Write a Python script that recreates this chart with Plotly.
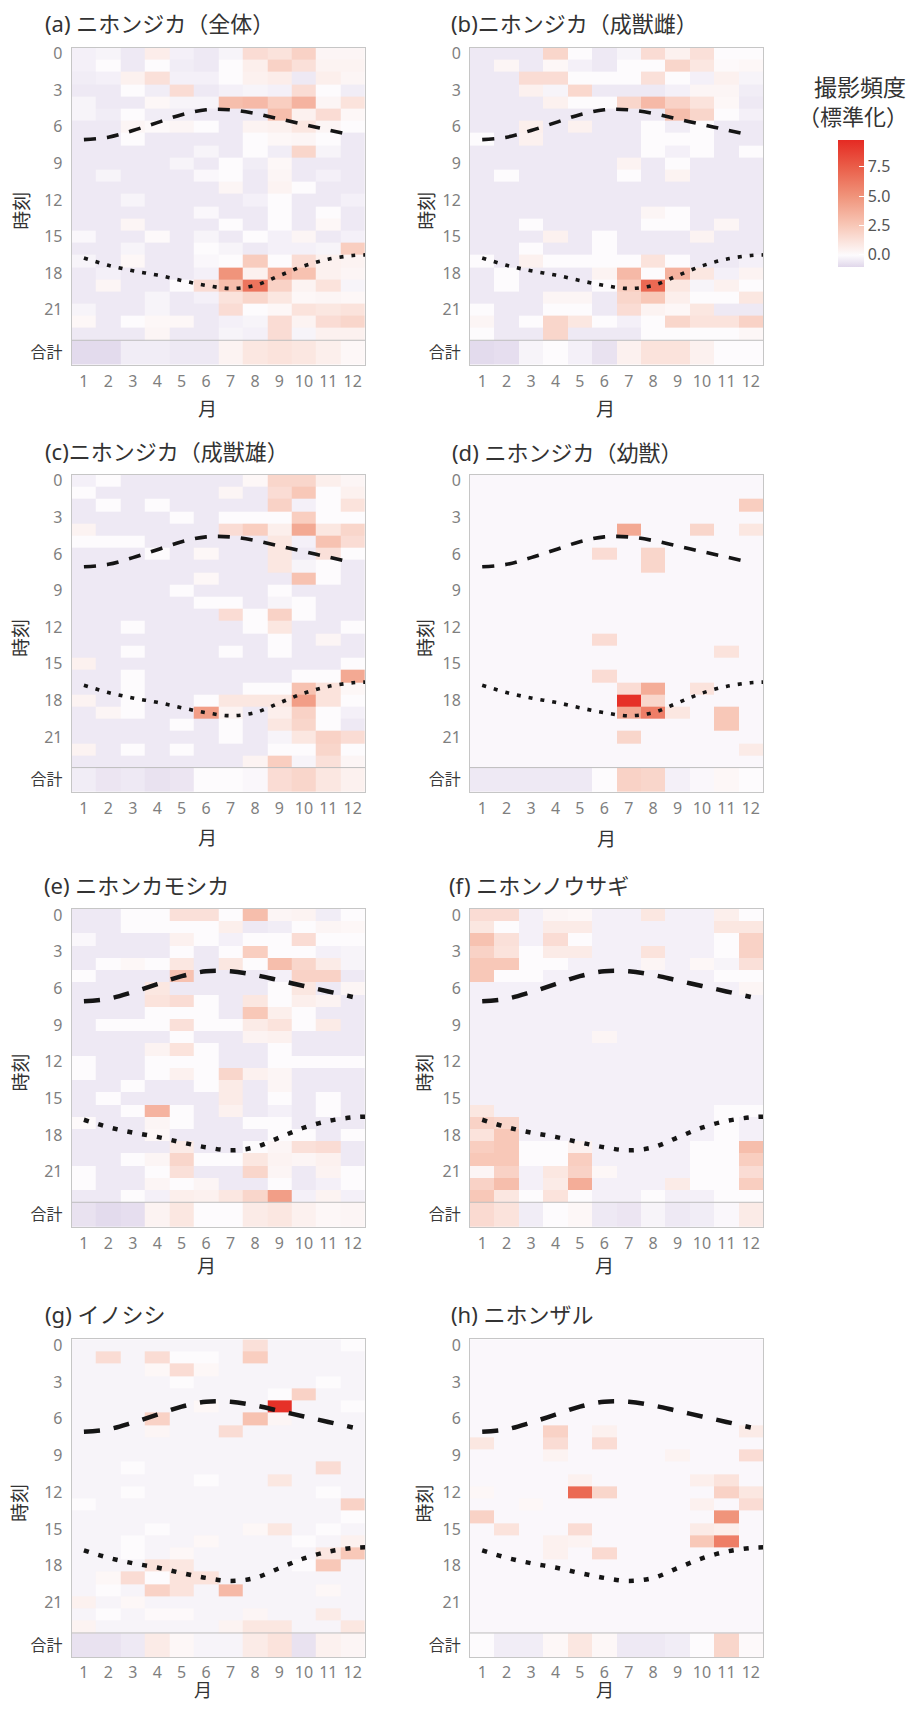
import plotly.graph_objects as go

# ---------------- data ----------------
months = [1, 2, 3, 4, 5, 6, 7, 8, 9, 10, 11, 12]
month_labels = ["1", "2", "3", "4", "5", "6", "7", "8", "9", "10", "11", "12"]
hour_ticks = [0, 3, 6, 9, 12, 15, 18, 21]
total_label = "合計"

sunrise_month = [1, 2, 3, 4, 5, 6, 7, 8, 9, 10, 11, 12]
sunrise_hour = [7.05, 6.85, 6.3, 5.65, 5.0, 4.6, 4.6, 4.9, 5.35, 5.8, 6.25, 6.7]
sunset_month = [1, 2, 3, 4, 5, 6, 7, 8, 9, 10, 11, 12, 12.5]
sunset_hour = [16.75, 17.35, 17.8, 18.15, 18.6, 19.0, 19.25, 19.0, 18.2, 17.4, 16.85, 16.55, 16.5]

titles = ["(a) ニホンジカ（全体）", "(b)ニホンジカ（成獣雌）", "(c)ニホンジカ（成獣雄）",
          "(d) ニホンジカ（幼獣）", "(e) ニホンカモシカ", "(f) ニホンノウサギ",
          "(g) イノシシ", "(h) ニホンザル"]

a_hours = [
    [-0.3, -0.2, -0.5, 0.7, -0.3, -0.5, -0.2, 1.5, 1.2, 2.0, 0.3, 0.3],
    [-0.3, 0.0, -0.5, 0.0, -0.4, -0.5, 0.0, 0.6, 2.0, 1.3, 0.4, 0.4],
    [-0.4, -0.3, 0.5, 1.3, -0.3, -0.3, 0.0, 0.5, 0.7, -0.5, 0.6, 0.3],
    [-0.5, -0.5, 0.0, -0.4, 1.5, -0.5, -0.3, -0.2, -0.3, 1.5, 0.0, -0.4],
    [-0.2, -0.5, -0.5, 0.2, -0.2, -0.2, 3.0, 3.2, 2.2, 3.5, 0.3, 1.2],
    [-0.2, -0.4, 0.0, -0.4, -0.4, -0.5, -0.5, -0.5, 3.0, 0.5, 1.5, 0.2],
    [-0.5, -0.5, 0.3, 0.1, 0.3, 0.0, -0.5, 0.4, 0.5, 1.0, 0.3, 0.0],
    [-0.5, -0.5, 0.0, -0.5, -0.5, -0.5, -0.5, 0.0, 0.2, 0.3, 0.0, -0.5],
    [-0.5, -0.5, -0.5, -0.5, -0.5, -0.2, -0.5, 0.0, -0.4, 1.8, -0.2, -0.5],
    [-0.5, -0.5, -0.5, -0.5, -0.2, -0.5, 0.0, -0.4, 0.2, -0.5, -0.5, -0.5],
    [-0.5, -0.2, -0.5, -0.5, -0.5, -0.1, 0.0, -0.5, 0.3, -0.5, -0.3, -0.5],
    [-0.5, -0.5, -0.5, -0.5, -0.5, -0.5, 0.3, -0.5, 0.4, 0.0, -0.5, -0.5],
    [-0.5, -0.5, -0.2, -0.5, -0.5, -0.5, -0.5, -0.3, 0.0, -0.5, -0.5, -0.3],
    [-0.5, -0.5, -0.5, -0.5, -0.5, -0.1, -0.5, -0.5, 0.0, -0.5, 0.0, -0.5],
    [-0.5, -0.5, 0.3, -0.5, -0.5, -0.5, 0.0, -0.5, 0.0, -0.5, 0.2, -0.5],
    [-0.1, -0.5, -0.5, 0.1, -0.5, -0.2, -0.5, 0.0, -0.3, 0.3, -0.5, -0.3],
    [-0.5, -0.5, -0.2, -0.5, -0.5, 0.0, -0.2, -0.5, -0.3, -0.3, -0.2, 2.2],
    [-0.2, -0.5, 0.2, -0.5, -0.5, -0.1, 0.0, 2.3, 0.0, 1.5, 0.5, 0.4],
    [-0.5, -0.3, -0.5, -0.5, -0.5, -0.3, 5.0, 0.5, 3.5, 2.8, 0.5, 0.3],
    [-0.5, 0.3, -0.5, -0.5, 0.0, 1.5, 3.0, 6.5, 2.0, 0.4, 1.2, -0.2],
    [-0.5, -0.5, -0.5, -0.2, -0.5, -0.3, 1.2, 1.8, 1.0, 0.2, 0.3, 0.2],
    [-0.2, -0.5, -0.5, -0.2, -0.5, -0.5, 1.5, 0.0, 0.2, 1.2, 1.0, 1.2],
    [0.2, -0.5, 0.0, 0.2, 0.2, -0.5, -0.3, -0.2, 1.5, 0.4, 1.5, 1.8],
    [-0.5, -0.5, -0.5, 0.3, -0.5, -0.5, -0.2, -0.3, 1.5, -0.2, 0.5, 0.5],
]
a_total = [-0.9, -0.9, -0.4, -0.4, -0.5, -0.5, 0.4, 1.0, 1.2, 1.0, 0.6, 0.2]

b_hours = [
    [-0.5, -0.5, -0.5, 1.8, 0.0, -0.5, -0.2, 1.5, 0.5, 1.3, 0.0, 0.0],
    [-0.5, 0.3, -0.5, 0.2, -0.3, -0.5, 0.0, 0.0, 1.8, 1.0, 0.1, 0.2],
    [-0.5, -0.5, 1.5, 1.5, 0.0, 0.0, 0.0, 1.3, 0.0, -0.3, 0.5, -0.2],
    [-0.5, -0.5, 0.5, -0.2, 1.7, -0.5, -0.5, -0.5, -0.3, 0.3, 0.3, -0.4],
    [-0.5, -0.5, -0.5, 0.5, 0.0, 0.0, 1.8, 3.2, 2.0, 1.2, 0.2, -0.5],
    [-0.5, -0.5, -0.5, -0.5, -0.5, -0.5, -0.5, -0.5, 3.0, 1.8, 0.0, -0.3],
    [-0.5, -0.5, 0.6, -0.5, 0.5, -0.5, -0.5, 0.0, -0.4, 0.0, -0.5, -0.5],
    [0.0, -0.5, 0.5, -0.5, -0.5, -0.5, -0.5, 0.0, 0.0, 0.0, -0.5, -0.5],
    [-0.5, -0.5, -0.5, -0.5, -0.5, -0.5, -0.5, 0.0, -0.3, 0.0, -0.5, 0.0],
    [-0.5, -0.5, -0.5, -0.5, -0.5, -0.5, 0.4, -0.5, 0.0, -0.5, -0.5, -0.5],
    [-0.5, 0.0, -0.5, -0.5, -0.5, -0.5, 0.0, -0.5, 0.4, -0.5, -0.5, -0.5],
    [-0.5, -0.5, -0.5, -0.5, -0.5, -0.5, -0.5, -0.5, -0.5, -0.5, -0.5, -0.5],
    [-0.5, -0.5, -0.5, -0.5, -0.5, -0.5, -0.5, -0.5, -0.5, -0.5, -0.5, -0.5],
    [-0.5, -0.5, -0.5, -0.5, -0.5, -0.5, -0.5, 0.3, 0.0, -0.5, -0.5, -0.5],
    [-0.5, -0.5, 0.0, -0.5, -0.5, -0.5, -0.5, 0.0, 0.0, -0.5, 0.3, -0.5],
    [-0.5, -0.5, -0.5, 0.5, -0.5, 0.0, -0.5, -0.5, -0.5, 0.4, -0.5, -0.5],
    [-0.5, -0.5, 0.0, -0.5, -0.5, 0.0, -0.5, -0.5, -0.5, -0.5, -0.5, -0.5],
    [0.0, -0.5, 0.5, 0.0, 0.0, 0.0, 0.0, 1.2, 0.0, -0.5, -0.5, -0.3],
    [-0.5, 0.0, -0.5, -0.5, -0.5, 0.4, 3.2, 0.0, 3.5, 1.0, -0.3, 0.4],
    [-0.5, 0.0, -0.5, -0.5, -0.5, 0.0, 2.2, 7.0, 1.0, -0.2, 0.5, 0.0],
    [-0.5, -0.5, -0.5, 0.3, 0.3, -0.5, 1.8, 2.5, 0.6, 0.0, 0.0, 1.0],
    [0.0, -0.5, -0.5, 0.0, 0.0, -0.5, 1.5, 0.4, 0.2, 1.0, -0.5, -0.5],
    [0.3, -0.5, 0.0, 1.8, 1.0, 0.0, -0.3, 0.0, 1.8, 1.2, 1.2, 2.0],
    [0.0, -0.5, -0.5, 1.8, -0.5, -0.5, -0.5, 0.0, 0.0, 0.0, 0.0, 0.2],
]
b_total = [-0.9, -0.8, -0.2, 0.0, -0.3, -0.7, 0.5, 1.2, 1.2, 0.5, 0.0, 0.0]

c_hours = [
    [-0.3, 0.0, -0.5, -0.5, -0.5, -0.5, -0.5, 0.2, 1.8, 1.8, 0.6, 0.3],
    [0.0, -0.5, -0.5, -0.5, -0.5, -0.5, 0.3, -0.5, 1.5, 2.5, 0.0, 0.5],
    [-0.5, 0.0, -0.5, 0.0, -0.5, -0.5, -0.5, -0.5, 2.0, -0.3, 0.0, 1.2],
    [-0.5, -0.5, -0.5, -0.5, 0.0, -0.5, 0.0, 0.0, 0.0, 2.2, 0.0, 0.0],
    [0.4, -0.5, -0.5, -0.5, -0.5, -0.5, 1.5, 2.2, 0.6, 4.0, 1.0, 1.8],
    [0.0, 0.0, 0.0, -0.5, -0.5, -0.5, -0.5, -0.5, 1.0, -0.3, 2.8, 1.5],
    [-0.5, -0.5, -0.5, 0.0, -0.5, 0.2, -0.5, -0.5, 1.0, -0.5, 1.3, 0.0],
    [-0.5, -0.5, -0.5, -0.5, -0.5, -0.5, -0.5, -0.5, 1.0, -0.2, 0.0, -0.5],
    [-0.5, -0.5, -0.5, -0.5, -0.5, 0.2, -0.5, -0.5, -0.5, 2.8, 0.0, -0.5],
    [-0.5, -0.5, -0.5, -0.5, 0.0, -0.5, -0.5, -0.5, 0.0, -0.5, -0.5, -0.5],
    [-0.5, -0.5, -0.5, -0.5, -0.5, 0.0, 0.0, -0.5, -0.2, 0.0, -0.5, -0.5],
    [-0.5, -0.5, -0.5, -0.5, -0.5, -0.5, 1.5, 0.0, 2.0, 0.0, -0.5, -0.5],
    [-0.5, -0.5, 0.0, -0.5, -0.5, -0.5, -0.5, 0.0, 1.0, -0.5, -0.5, 0.0],
    [-0.5, -0.5, -0.5, -0.5, -0.5, -0.5, -0.5, -0.5, 0.0, -0.5, 0.3, -0.5],
    [-0.5, -0.5, 0.0, -0.5, -0.5, -0.5, 0.0, -0.5, 0.0, -0.5, -0.5, -0.5],
    [0.5, -0.5, -0.5, -0.5, -0.5, -0.5, -0.5, -0.5, -0.5, -0.5, -0.5, 0.0],
    [-0.5, -0.5, 0.0, -0.5, -0.5, -0.5, -0.5, -0.5, -0.5, 0.0, 0.0, 4.0],
    [-0.5, -0.5, 0.0, -0.5, -0.5, -0.5, -0.5, 0.0, 0.0, 2.8, 1.2, 0.2],
    [0.4, -0.5, 0.0, -0.5, -0.5, 0.0, 1.0, 1.0, 1.0, 4.5, 1.2, 0.0],
    [-0.5, 0.3, 0.0, -0.5, -0.5, 4.5, 0.4, -0.5, 0.6, 2.0, 0.0, -0.3],
    [-0.5, -0.5, -0.5, -0.5, 0.0, -0.5, 0.0, -0.5, 1.0, 1.8, 0.0, -0.5],
    [-0.5, -0.5, -0.5, -0.5, -0.5, -0.5, 0.0, -0.5, -0.2, 1.0, 2.0, 1.5],
    [0.4, -0.5, 0.0, -0.5, 0.0, -0.5, -0.5, -0.5, 0.0, 0.0, 1.8, 0.0],
    [-0.5, -0.5, -0.5, -0.5, -0.5, -0.5, -0.5, 0.4, 2.2, -0.2, 1.3, 0.3],
]
c_total = [-0.4, -0.6, -0.5, -0.7, -0.6, 0.0, 0.0, -0.1, 1.5, 1.8, 1.0, 0.5]

d_hours = [
    [-0.1, -0.1, -0.1, -0.1, -0.1, -0.1, -0.1, -0.1, -0.1, -0.1, -0.1, -0.1],
    [-0.1, -0.1, -0.1, -0.1, -0.1, -0.1, -0.1, -0.1, -0.1, -0.1, -0.1, -0.1],
    [-0.1, -0.1, -0.1, -0.1, -0.1, -0.1, -0.1, -0.1, -0.1, -0.1, -0.1, 2.2],
    [-0.1, -0.1, -0.1, -0.1, -0.1, -0.1, -0.1, -0.1, -0.1, -0.1, -0.1, -0.1],
    [-0.1, -0.1, -0.1, -0.1, -0.1, -0.1, 4.0, -0.1, -0.1, 1.8, -0.1, 1.0],
    [-0.1, -0.1, -0.1, -0.1, -0.1, -0.1, -0.1, -0.1, -0.1, -0.1, -0.1, -0.1],
    [-0.1, -0.1, -0.1, -0.1, -0.1, 1.5, -0.1, 1.8, -0.1, -0.1, -0.1, -0.1],
    [-0.1, -0.1, -0.1, -0.1, -0.1, -0.1, -0.1, 1.8, -0.1, -0.1, -0.1, -0.1],
    [-0.1, -0.1, -0.1, -0.1, -0.1, -0.1, -0.1, -0.1, -0.1, -0.1, -0.1, -0.1],
    [-0.1, -0.1, -0.1, -0.1, -0.1, -0.1, -0.1, -0.1, -0.1, -0.1, -0.1, -0.1],
    [-0.1, -0.1, -0.1, -0.1, -0.1, -0.1, -0.1, -0.1, -0.1, -0.1, -0.1, -0.1],
    [-0.1, -0.1, -0.1, -0.1, -0.1, -0.1, -0.1, -0.1, -0.1, -0.1, -0.1, -0.1],
    [-0.1, -0.1, -0.1, -0.1, -0.1, -0.1, -0.1, -0.1, -0.1, -0.1, -0.1, -0.1],
    [-0.1, -0.1, -0.1, -0.1, -0.1, 1.5, -0.1, -0.1, -0.1, -0.1, -0.1, -0.1],
    [-0.1, -0.1, -0.1, -0.1, -0.1, -0.1, -0.1, -0.1, -0.1, -0.1, 1.2, -0.1],
    [-0.1, -0.1, -0.1, -0.1, -0.1, -0.1, -0.1, -0.1, -0.1, -0.1, -0.1, -0.1],
    [-0.1, -0.1, -0.1, -0.1, -0.1, 1.5, -0.1, -0.1, -0.1, -0.1, -0.1, -0.1],
    [-0.1, -0.1, -0.1, -0.1, -0.1, -0.1, 1.5, 3.8, -0.1, 1.2, -0.1, -0.1],
    [-0.1, -0.1, -0.1, -0.1, -0.1, -0.1, 9.5, 1.8, -0.1, -0.1, -0.1, -0.1],
    [-0.1, -0.1, -0.1, -0.1, -0.1, -0.1, 4.0, 6.0, 1.0, -0.1, 2.5, -0.1],
    [-0.1, -0.1, -0.1, -0.1, -0.1, -0.1, -0.1, -0.1, -0.1, -0.1, 2.5, -0.1],
    [-0.1, -0.1, -0.1, -0.1, -0.1, -0.1, 1.8, -0.1, -0.1, -0.1, -0.1, -0.1],
    [-0.1, -0.1, -0.1, -0.1, -0.1, -0.1, -0.1, -0.1, -0.1, -0.1, -0.1, 0.8],
    [-0.1, -0.1, -0.1, -0.1, -0.1, -0.1, -0.1, -0.1, -0.1, -0.1, -0.1, -0.1],
]
d_total = [-0.5, -0.5, -0.5, -0.5, -0.5, 0.0, 2.0, 1.8, -0.3, -0.1, 0.2, 0.0]

e_hours = [
    [-0.5, -0.5, 0.0, 0.0, 1.3, 1.3, 0.0, 3.0, 0.3, 0.4, -0.4, 0.0],
    [-0.5, -0.5, 0.0, 0.0, 0.0, 0.0, 0.6, -0.5, -0.4, 0.0, 0.3, 0.2],
    [-0.1, -0.5, -0.5, -0.5, 0.5, 0.0, -0.3, 0.0, 0.0, 1.5, 0.0, 0.0],
    [-0.5, -0.5, -0.5, -0.5, 0.0, -0.5, 0.0, 2.2, 0.0, 0.0, -0.3, -0.2],
    [-0.5, 0.0, 0.2, 0.0, 1.0, -0.5, 1.0, 0.0, 3.0, 1.8, 0.8, -0.2],
    [0.0, -0.5, -0.5, -0.5, 2.8, -0.5, -0.5, -0.5, -0.3, 2.0, 2.0, -0.5],
    [-0.5, -0.5, -0.5, 1.0, -0.5, -0.5, -0.5, -0.5, 0.0, 1.0, -0.5, 0.3],
    [-0.5, -0.5, -0.5, 1.2, 1.5, 0.0, -0.5, 1.0, 0.0, 0.6, 0.4, -0.5],
    [-0.5, -0.5, -0.5, 0.0, 0.0, 0.0, -0.5, 2.5, 0.6, 0.0, -0.5, -0.5],
    [-0.5, 0.0, 0.0, 0.0, 1.3, 0.0, 0.0, 0.8, 1.2, 0.0, 0.8, -0.5],
    [-0.5, -0.5, -0.5, -0.5, 0.0, -0.5, -0.5, 0.4, 0.5, -0.5, -0.5, -0.5],
    [-0.5, -0.5, -0.5, 0.4, 1.2, 0.0, -0.5, -0.5, 0.0, -0.5, -0.5, -0.5],
    [0.0, -0.5, -0.5, 0.0, 0.0, 0.0, -0.5, -0.5, 0.0, 0.0, 0.0, 0.0],
    [0.0, -0.5, -0.5, 0.0, 0.5, 0.0, 1.8, 0.5, 0.3, -0.5, -0.5, -0.5],
    [-0.5, -0.5, 0.0, -0.5, -0.5, 0.0, 0.8, -0.5, 0.3, -0.5, -0.5, -0.5],
    [-0.5, 0.0, -0.5, -0.5, -0.5, -0.5, 0.8, -0.5, 0.0, -0.5, 0.0, -0.5],
    [-0.5, -0.5, 0.0, 3.5, 0.0, -0.5, 0.5, -0.5, -0.3, -0.5, 0.0, -0.5],
    [0.1, -0.5, -0.5, 0.3, 0.0, -0.5, -0.5, 0.0, 0.0, -0.5, -0.5, -0.5],
    [-0.5, -0.5, -0.5, 0.2, -0.5, -0.5, -0.5, -0.5, 0.0, 0.0, -0.5, 0.0],
    [-0.5, -0.5, -0.5, -0.5, 0.8, -0.5, -0.5, 0.0, 0.3, 1.3, 1.5, -0.5],
    [-0.5, -0.5, 0.0, 0.3, 1.8, 0.0, 0.0, 1.0, 0.4, 0.3, 0.5, -0.5],
    [0.0, -0.5, -0.5, 0.0, 1.3, -0.5, -0.5, 1.8, 0.3, -0.5, 0.4, 0.0],
    [0.0, -0.5, -0.5, 0.3, 0.0, 0.3, -0.5, -0.5, 0.0, -0.5, -0.3, 0.0],
    [-0.5, -0.5, 0.0, -0.3, 0.6, 0.5, 1.0, 1.8, 4.5, -0.3, 0.4, -0.3],
]
e_total = [-0.7, -0.9, -0.8, 0.4, 1.0, 0.0, 0.0, 0.8, 1.0, 0.5, 0.2, 0.3]

f_hours = [
    [1.5, 1.5, -0.3, 0.3, 0.2, -0.3, -0.3, 1.0, -0.3, -0.3, 0.6, 0.0],
    [1.0, 0.0, -0.3, 0.8, 0.8, -0.3, -0.3, -0.3, -0.3, -0.3, 1.0, 1.0],
    [2.8, 1.3, -0.3, 1.5, 0.0, -0.3, -0.3, -0.3, -0.3, -0.3, 0.0, 2.0],
    [2.0, 1.2, 0.0, 0.8, 0.8, -0.3, -0.3, 1.2, -0.3, -0.3, 0.0, 2.0],
    [2.5, 2.5, 0.0, 0.0, -0.3, -0.3, -0.3, 0.3, -0.3, 0.2, -0.2, 1.3],
    [2.5, 0.0, 0.0, -0.3, -0.3, -0.3, -0.3, -0.3, -0.3, -0.3, 0.0, 0.0],
    [-0.3, -0.3, -0.3, -0.3, -0.3, -0.3, -0.3, -0.3, -0.3, -0.3, -0.3, 0.3],
    [-0.3, -0.3, -0.3, -0.3, -0.3, -0.3, -0.3, -0.3, -0.3, -0.3, -0.3, -0.3],
    [-0.3, -0.3, -0.3, -0.3, -0.3, -0.3, -0.3, -0.3, -0.3, -0.3, -0.3, -0.3],
    [-0.3, -0.3, -0.3, -0.3, -0.3, -0.3, -0.3, -0.3, -0.3, -0.3, -0.3, -0.3],
    [-0.3, -0.3, -0.3, -0.3, -0.3, 0.3, -0.3, -0.3, -0.3, -0.3, -0.3, -0.3],
    [-0.3, -0.3, -0.3, -0.3, -0.3, -0.3, -0.3, -0.3, -0.3, -0.3, -0.3, -0.3],
    [-0.3, -0.3, -0.3, -0.3, -0.3, -0.3, -0.3, -0.3, -0.3, -0.3, -0.3, -0.3],
    [-0.3, -0.3, -0.3, -0.3, -0.3, -0.3, -0.3, -0.3, -0.3, -0.3, -0.3, -0.3],
    [-0.3, -0.3, -0.3, -0.3, -0.3, -0.3, -0.3, -0.3, -0.3, -0.3, -0.3, -0.3],
    [-0.3, -0.3, -0.3, -0.3, -0.3, -0.3, -0.3, -0.3, -0.3, -0.3, -0.3, -0.3],
    [1.0, -0.3, -0.3, -0.3, -0.3, -0.3, -0.3, -0.3, -0.3, -0.3, 0.0, 0.0],
    [2.0, 1.8, -0.3, -0.3, -0.3, -0.3, -0.3, -0.3, -0.3, -0.3, 0.0, -0.3],
    [1.2, 2.5, -0.3, -0.3, -0.3, -0.3, -0.3, -0.3, -0.3, -0.3, 0.0, -0.3],
    [2.2, 2.5, 0.0, 0.0, 0.5, -0.3, -0.3, -0.3, -0.3, 0.0, 0.0, 3.0],
    [2.5, 2.5, 0.0, 0.0, 2.2, -0.3, -0.3, -0.3, -0.3, 0.0, 0.0, 2.2],
    [0.3, 2.0, -0.3, 1.0, 2.0, 0.2, -0.3, -0.3, -0.3, 0.0, 0.0, 1.5],
    [2.0, 3.0, -0.3, 0.8, 3.8, -0.3, -0.3, -0.3, 0.8, 0.0, 0.0, 2.2],
    [2.5, 1.0, 0.0, 1.2, 0.0, -0.3, -0.3, 0.0, -0.3, -0.3, 0.0, 0.0],
]
f_total = [1.6, 1.2, -0.4, 0.0, 0.2, -0.5, -0.6, -0.2, -0.5, -0.4, -0.1, 0.8]

g_hours = [
    [-0.2, -0.2, -0.2, -0.2, -0.2, -0.2, -0.2, 1.3, -0.2, -0.2, -0.2, 0.0],
    [-0.2, 1.5, -0.2, 1.5, 0.0, 0.0, -0.2, 2.2, -0.2, -0.2, -0.2, -0.2],
    [-0.2, -0.2, -0.2, 0.2, 1.5, 0.2, -0.2, -0.2, -0.2, -0.2, -0.2, -0.2],
    [-0.2, -0.2, -0.2, -0.2, 0.0, -0.2, -0.2, -0.2, -0.2, -0.2, 0.0, -0.2],
    [-0.2, -0.2, -0.2, -0.2, -0.2, -0.2, -0.2, -0.2, 0.0, 2.0, -0.2, -0.2],
    [-0.2, -0.2, -0.2, -0.2, -0.2, 0.2, -0.2, -0.2, 9.5, -0.2, -0.2, 0.0],
    [-0.2, -0.2, -0.2, 2.0, -0.2, -0.2, -0.2, 2.8, 0.3, -0.2, -0.2, -0.2],
    [-0.2, -0.2, -0.2, 0.3, -0.2, -0.2, 1.5, -0.2, -0.2, -0.2, -0.2, -0.2],
    [-0.2, -0.2, -0.2, -0.2, -0.2, -0.2, -0.2, -0.2, -0.2, -0.2, -0.2, -0.2],
    [-0.2, -0.2, -0.2, -0.2, -0.2, -0.2, -0.2, -0.2, -0.2, -0.2, -0.2, -0.2],
    [-0.2, -0.2, 0.0, -0.2, -0.2, -0.2, -0.2, -0.2, -0.2, -0.2, 1.5, -0.2],
    [-0.2, -0.2, -0.2, -0.2, -0.2, 0.0, -0.2, -0.2, 1.0, -0.2, -0.2, -0.2],
    [-0.2, -0.2, 0.0, -0.2, -0.2, -0.2, -0.2, -0.2, -0.2, -0.2, 0.0, -0.2],
    [0.0, -0.2, -0.2, -0.2, -0.2, -0.2, -0.2, -0.2, -0.2, -0.2, -0.2, 2.0],
    [-0.2, -0.2, -0.2, -0.2, -0.2, -0.2, -0.2, -0.2, -0.2, -0.2, -0.2, 0.0],
    [-0.2, -0.2, -0.2, 0.0, -0.2, -0.2, -0.2, 0.2, 1.0, -0.2, 0.0, -0.2],
    [-0.2, -0.2, 0.0, -0.2, -0.2, 0.2, -0.2, -0.2, -0.2, 0.0, -0.2, 0.5],
    [-0.2, -0.2, 0.0, -0.2, 0.2, -0.2, -0.2, -0.2, -0.2, -0.2, 1.0, 2.5],
    [-0.2, -0.2, -0.2, 1.2, 1.0, -0.2, -0.2, -0.2, -0.2, 0.0, 2.5, -0.2],
    [-0.2, 0.2, 1.5, 0.0, 1.2, 1.2, -0.2, -0.2, -0.2, -0.2, -0.2, -0.2],
    [-0.2, 0.0, -0.2, 2.0, 1.2, -0.2, 3.2, -0.2, -0.2, -0.2, 0.2, -0.2],
    [0.5, -0.2, 0.2, -0.2, -0.2, -0.2, -0.2, -0.2, -0.2, -0.2, -0.2, -0.2],
    [-0.2, 0.0, -0.2, 0.1, 0.1, -0.2, -0.2, 0.3, -0.2, -0.2, 0.8, -0.2],
    [0.4, -0.2, -0.2, -0.2, -0.2, -0.2, 0.4, 1.0, 1.0, -0.2, -0.2, 1.0],
]
g_total = [-0.7, -0.7, -0.5, 0.8, 0.2, -0.2, -0.2, 0.8, 1.2, -0.7, 0.5, 0.3]

h_hours = [
    [-0.1, -0.1, -0.1, -0.1, -0.1, -0.1, -0.1, -0.1, -0.1, -0.1, -0.1, -0.1],
    [-0.1, -0.1, -0.1, -0.1, -0.1, -0.1, -0.1, -0.1, -0.1, -0.1, -0.1, -0.1],
    [-0.1, -0.1, -0.1, -0.1, -0.1, -0.1, -0.1, -0.1, -0.1, -0.1, -0.1, -0.1],
    [-0.1, -0.1, -0.1, -0.1, -0.1, -0.1, -0.1, -0.1, -0.1, -0.1, -0.1, -0.1],
    [-0.1, -0.1, -0.1, -0.1, -0.1, -0.1, -0.1, -0.1, -0.1, -0.1, -0.1, -0.1],
    [-0.1, -0.1, -0.1, -0.1, -0.1, -0.1, -0.1, -0.1, -0.1, -0.1, -0.1, -0.1],
    [-0.1, -0.1, -0.1, -0.1, -0.1, -0.1, -0.1, -0.1, -0.1, -0.1, -0.1, -0.1],
    [-0.1, -0.1, -0.1, 2.0, -0.1, 0.5, -0.1, -0.1, -0.1, -0.1, -0.1, 0.8],
    [1.0, -0.1, -0.1, 1.5, -0.1, 1.5, -0.1, -0.1, -0.1, -0.1, -0.1, -0.1],
    [-0.1, -0.1, -0.1, 0.4, -0.1, -0.1, -0.1, -0.1, 0.4, -0.1, -0.1, 1.5],
    [-0.1, -0.1, -0.1, -0.1, -0.1, -0.1, -0.1, -0.1, -0.1, -0.1, -0.1, -0.1],
    [-0.1, -0.1, -0.1, -0.1, 0.5, -0.1, -0.1, -0.1, -0.1, 0.6, 1.2, -0.1],
    [0.2, -0.1, -0.1, -0.1, 7.0, 1.8, -0.1, -0.1, -0.1, -0.1, 2.0, 1.0],
    [-0.1, -0.1, 0.2, -0.1, -0.1, -0.1, -0.1, -0.1, -0.1, 0.5, -0.1, 1.5],
    [2.0, -0.1, -0.1, -0.1, -0.1, -0.1, -0.1, -0.1, -0.1, -0.1, 5.0, -0.1],
    [-0.1, 1.2, -0.1, -0.1, 1.5, -0.1, -0.1, -0.1, -0.1, 0.8, 0.6, -0.1],
    [-0.1, -0.1, -0.1, 0.5, 0.4, -0.1, -0.1, -0.1, -0.1, 2.5, 6.0, -0.1],
    [-0.1, -0.1, -0.1, 0.5, -0.1, 1.6, -0.1, -0.1, -0.1, -0.1, -0.1, -0.1],
    [-0.1, -0.1, -0.1, -0.1, -0.1, -0.1, -0.1, -0.1, -0.1, -0.1, -0.1, -0.1],
    [-0.1, -0.1, -0.1, -0.1, -0.1, -0.1, -0.1, -0.1, -0.1, -0.1, -0.1, -0.1],
    [-0.1, -0.1, -0.1, -0.1, -0.1, -0.1, -0.1, -0.1, -0.1, -0.1, -0.1, -0.1],
    [-0.1, -0.1, -0.1, -0.1, -0.1, -0.1, -0.1, -0.1, -0.1, -0.1, -0.1, -0.1],
    [-0.1, -0.1, -0.1, -0.1, -0.1, -0.1, -0.1, -0.1, -0.1, -0.1, -0.1, -0.1],
    [-0.1, -0.1, -0.1, -0.1, -0.1, -0.1, -0.1, -0.1, -0.1, -0.1, -0.1, -0.1],
]
h_total = [0.0, -0.4, -0.4, 0.2, 1.0, 0.2, -0.5, -0.5, -0.4, 0.0, 1.8, 0.1]

panel_hours = [a_hours, b_hours, c_hours, d_hours, e_hours, f_hours, g_hours, h_hours]
panel_totals = [a_total, b_total, c_total, d_total, e_total, f_total, g_total, h_total]

# ---------------- layout geometry (page pixels) ----------------
PAGE_W, PAGE_H = 916, 1710
OFF = 8                      # default body margin of the html page
W, H = PAGE_W - 2 * OFF, PAGE_H - 2 * OFF
col_x = [(71.7, 365.0), (470.0, 763.0)]
row_y = [(42.7, 360.7), (471.0, 789.3), (906.6, 1225.3), (1338.3, 1657.3)]
title_pos = [(43, 18), (449, 18), (43, 447), (450, 448),
             (42, 883), (447, 883), (43, 1313), (449, 1313)]
month_title_pos = [(207, 405), (605, 405), (207, 835), (606, 836),
                   (206, 1265), (604, 1265), (203, 1690), (605, 1690)]
hour_title_x = [21.7, 426.7, 21.7, 426.7, 20.7, 425.0, 20.7, 425.0]

FONT = "Noto Sans, Noto Sans CJK JP, sans-serif"


def px(x):
    return (x - OFF) / W


def py(y):
    return 1 - (y - OFF) / H


# y edges: 24 hour rows of height 1, then total row of height 2
y_edges = [h - 0.5 for h in range(25)] + [25.5]

colorscale = [
    [0.0, "rgb(224,215,235)"],
    [0.0926, "rgb(253,251,253)"],
    [0.3241, "rgb(248,200,184)"],
    [0.5556, "rgb(240,148,123)"],
    [0.787, "rgb(234,94,73)"],
    [1.0, "rgb(229,42,35)"],
]

fig = go.Figure()
layout = dict(
    width=W, height=H, margin=dict(l=0, r=0, t=0, b=0),
    paper_bgcolor="white", plot_bgcolor="white",
    font=dict(family=FONT, color="#333333"),
    showlegend=False,
    coloraxis=dict(
        colorscale=colorscale, cmin=-1.0, cmax=9.8,
        colorbar=dict(
            x=px(838.3), xanchor="left", y=py(135), yanchor="top",
            len=127, lenmode="pixels", thickness=26, thicknessmode="pixels",
            xpad=0, ypad=0, outlinewidth=0,
            tickvals=[0, 2.5, 5, 7.5], ticktext=["0.0", "2.5", "5.0", "7.5"],
            ticks="inside", ticklen=5, tickcolor="white", tickwidth=1,
            tickfont=dict(family=FONT, size=16, color="#555555"),
        ),
    ),
)
annotations = []
shapes = []

for i in range(8):
    n = i + 1
    xs = "" if n == 1 else str(n)
    cx = col_x[i % 2]
    ry = row_y[i // 2]
    xa = "x" + xs
    ya = "y" + xs
    z = panel_hours[i] + [panel_totals[i]]
    fig.add_trace(go.Heatmap(
        z=z, x=months, y=y_edges, coloraxis="coloraxis",
        xaxis=xa, yaxis=ya, hoverinfo="skip",
    ))
    big = i >= 4
    fig.add_trace(go.Scatter(
        x=sunrise_month, y=sunrise_hour, mode="lines", xaxis=xa, yaxis=ya,
        line=dict(color="#151515", width=4.5 if big else 3.6, shape="spline",
                  dash="16px,14px" if big else "12px,11px"),
        hoverinfo="skip",
    ))
    fig.add_trace(go.Scatter(
        x=sunset_month, y=sunset_hour, mode="lines", xaxis=xa, yaxis=ya,
        line=dict(color="#151515", width=4.5 if big else 3.6, shape="spline",
                  dash="5px,10px" if big else "4px,8px"),
        hoverinfo="skip",
    ))
    layout["xaxis" + xs] = dict(
        domain=[px(cx[0]), px(cx[1])], anchor=ya, range=[0.5, 12.5],
        tickvals=months, ticktext=month_labels, ticks="",
        tickfont=dict(family=FONT, size=16, color="#7f7f7f"),
        ticklabelstandoff=0 if i >= 6 else 2,
        showgrid=False, zeroline=False, showline=True, mirror=True,
        linecolor="#c6c6c6", linewidth=1, fixedrange=True,
    )
    layout["yaxis" + xs] = dict(
        domain=[py(ry[1]), py(ry[0])], anchor=xa, range=[25.5, -0.5],
        tickvals=hour_ticks + [24.5],
        ticktext=[str(h) for h in hour_ticks] + ['<span style="color:#3a3a3a">' + total_label + "</span>"],
        ticks="", tickfont=dict(family=FONT, size=16, color="#7f7f7f"),
        ticklabelstandoff=5,
        showgrid=False, zeroline=False, showline=True, mirror=True,
        linecolor="#c6c6c6", linewidth=1, fixedrange=True,
    )
    shapes.append(dict(type="line", xref=xa, yref=ya, x0=0.5, x1=12.5,
                       y0=23.5, y1=23.5, line=dict(color="#bdbdbd", width=1)))
    tx, ty = title_pos[i]
    annotations.append(dict(text=titles[i], x=px(tx), y=py(ty), xref="paper", yref="paper",
                            xanchor="left", yanchor="middle", showarrow=False,
                            font=dict(family=FONT, size=22, color="#333333")))
    mx, my = month_title_pos[i]
    annotations.append(dict(text="月", x=px(mx), y=py(my), xref="paper", yref="paper",
                            xanchor="center", yanchor="middle", showarrow=False,
                            font=dict(family=FONT, size=19 if i < 6 else 18, color="#333333")))
    mid = (ry[0] + ry[1]) / 2 + 5
    annotations.append(dict(text="時刻", x=px(hour_title_x[i]), y=py(mid), xref="paper", yref="paper",
                            xanchor="center", yanchor="middle", showarrow=False, textangle=-90,
                            font=dict(family=FONT, size=19, color="#333333")))

annotations.append(dict(text="撮影頻度", x=px(860), y=py(82), xref="paper", yref="paper",
                        xanchor="center", yanchor="middle", showarrow=False,
                        font=dict(family=FONT, size=23, color="#333333")))
annotations.append(dict(text="（標準化）", x=px(853), y=py(111), xref="paper", yref="paper",
                        xanchor="center", yanchor="middle", showarrow=False,
                        font=dict(family=FONT, size=22, color="#333333")))

layout["annotations"] = annotations
layout["shapes"] = shapes
fig.update_layout(**layout)
fig.write_html("out.html")
